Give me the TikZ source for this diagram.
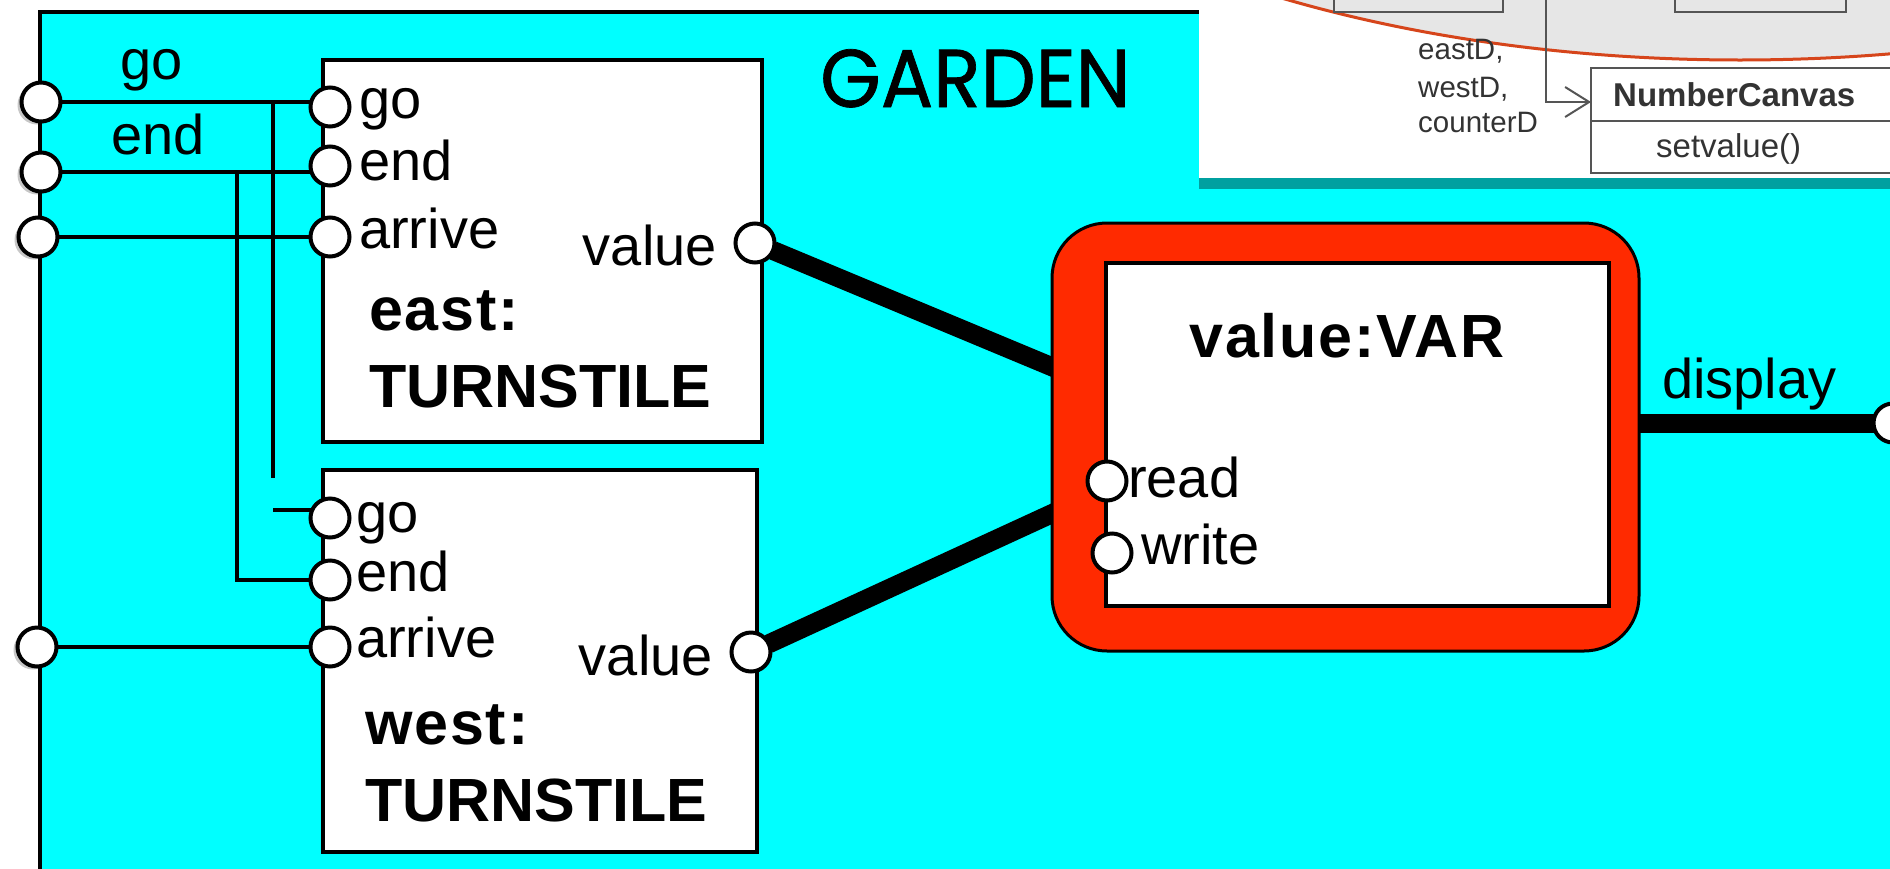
\documentclass[tikz,border=0pt]{standalone}
\usepackage{fontspec}
\setmainfont{Liberation Sans}
\newfontfamily\gardenfont[FakeBold=0.9]{Poppins}
\usetikzlibrary{calc,arrows.meta,shadows}

\definecolor{gardencyan}{HTML}{00FFFF}
\definecolor{varred}{HTML}{FF2A00}
\definecolor{umlgray}{HTML}{E6E6E6}
\definecolor{umlline}{HTML}{555555}
\definecolor{umlarc}{HTML}{D6451B}
\definecolor{umltext}{HTML}{333333}
\definecolor{insetshadow}{HTML}{00A0A0}

\pgfdeclarelayer{bg}
\pgfdeclarelayer{wires}
\pgfdeclarelayer{top}
\pgfsetlayers{bg,wires,main,top}

\tikzset{
  port/.style={circle, draw=black, fill=white, line width=4pt,
    minimum size=39pt, inner sep=0pt, outer sep=0pt},
  outerport/.style={port, drop shadow={shadow xshift=-4pt, shadow yshift=-3pt,
    fill=black, opacity=0.22}},
  procbox/.style={draw=black, fill=white, line width=4pt, anchor=north west,
    inner sep=0pt, outer sep=0pt},
  wire/.style={line width=3.5pt},
  bus/.style={line width=19pt},
  lbl/.style={anchor=base west, inner sep=0pt, font=\fontsize{56}{60}\selectfont},
  lblr/.style={lbl, anchor=base east},
  proctitle/.style={anchor=base west, inner sep=0pt,
    font=\fontsize{61}{66}\selectfont\bfseries},
  spaced/.style={font=\fontsize{61}{66}\selectfont\bfseries\addfontfeatures{LetterSpace=3}},
  umltxt/.style={anchor=base west, inner sep=0pt, text=umltext,
    font=\fontsize{29.5}{32}\selectfont},
}

\begin{document}
\begin{tikzpicture}[x=1pt,y=-1pt]
\useasboundingbox (0,0) rectangle (1890,868);

% ---------- GARDEN composite ----------
\begin{pgfonlayer}{bg}
  \fill[white] (0,0) rectangle (1890,868);
  \draw[line width=4pt, fill=gardencyan] (40,12) rectangle (1980,960);
\end{pgfonlayer}

\node[anchor=base west, inner sep=0pt, xscale=0.95,
      font=\gardenfont\fontsize{82}{88}\selectfont] (gardenlbl) at (820,107) {GARDEN};

% ---------- turnstile processes ----------
\node[procbox, minimum width=439pt, minimum height=382pt] (east) at (323,60) {};
\node[procbox, minimum width=434pt, minimum height=382pt] (west) at (323,470) {};

\node[proctitle, spaced] (easttitle) at (369,330) {east:};
\node[proctitle] (eastkind)  at (369,407) {TURNSTILE};
\node[proctitle, spaced] (westtitle) at (365,744) {west:};
\node[proctitle] (westkind)  at (365,821) {TURNSTILE};

% ---------- shared variable ----------
\node[draw=black, line width=3pt, fill=varred, rounded corners=55pt,
      minimum width=587pt, minimum height=428pt, anchor=north west,
      inner sep=0pt, outer sep=0pt] (var) at (1052,223) {};
\node[procbox, line width=3.5pt, minimum width=503pt, minimum height=343pt]
      (varbody) at (1106,263) {};
\node[anchor=base, inner sep=0pt, spaced] (vartitle) at (1347,357) {value:VAR};

% ---------- ports ----------
\node[outerport] (lgo)   at (41,102) {};
\node[outerport] (lend)  at (41,172) {};
\node[outerport] (larr)  at (38,237) {};
\node[outerport] (lwarr) at (37,647) {};

\node[port] (ego)  at (330,107) {};
\node[port] (eend) at (330,166) {};
\node[port] (earr) at (330,237) {};
\node[port] (eval) at (755,243) {};

\node[port] (wgo)  at (330,518) {};
\node[port] (wend) at (330,580) {};
\node[port] (warr) at (330,647) {};
\node[port] (wval) at (751,652) {};

\node[port] (vread)  at (1107,481) {};
\node[port] (vwrite) at (1112,553) {};

\node[port] (disp) at (1893,423) {};

% ---------- port labels ----------
\node[lbl] (lgol)  at (120,79)  {go};
\node[lbl] (lendl) at (111,154) {end};

\node[lbl] (egol)  at (359,118) {go};
\node[lbl] (eendl) at (359,180) {end};
\node[lbl] (earrl) at (359,248) {arrive};
\node[lblr] (evall) at (717,265) {value};

\node[lbl] (wgol)  at (356,532) {go};
\node[lbl] (wendl) at (356,591) {end};
\node[lbl] (warrl) at (356,657) {arrive};
\node[lblr] (wvall) at (713,675) {value};

\node[lbl] (vreadl)  at (1128,497) {read};
\node[lbl] (vwritel) at (1141,564) {write};
\node[lbl] (displ)   at (1662,398) {display};

% ---------- connections ----------
\coordinate (tapgo)    at (273,102);
\coordinate (tapgoend) at (273,478);
\coordinate (stubgo)   at (273,510);
\coordinate (tapend)   at (237,174);
\coordinate (varin1)   at (1062,371);
\coordinate (varin2)   at (1062,509);

\begin{pgfonlayer}{wires}
  \draw[wire] (lgo) -- (lgo -| ego);
  \draw[wire] (lend) -- (lend -| eend);
  \draw[wire] (larr) -- (larr -| earr);
  \draw[wire] (lwarr) -- (lwarr -| warr);
  \draw[wire] (tapgo) -- (tapgoend);
  \draw[wire] (stubgo) -- (stubgo -| wgo);
  \draw[wire] (tapend) |- (wend);
  \draw[bus] (eval) -- (varin1);
  \draw[bus] (wval) -- (varin2);
  \draw[bus] (var.east |- disp) -- (disp);
\end{pgfonlayer}

% ---------- class diagram excerpt ----------
\begin{pgfonlayer}{top}
  \fill[insetshadow] (1199,0) rectangle (1890,189);
  \fill[white] (1199,0) rectangle (1890,178);
  \begin{scope}
    \clip (1199,0) rectangle (1890,178);
    \draw[umlarc, fill=umlgray, line width=3pt] (1740,-385)
      ellipse [x radius=900, y radius=445];
    \draw[umlline, fill=umlgray, line width=2pt] (1334,-30) rectangle (1503,12);
    \draw[umlline, fill=umlgray, line width=2pt] (1675,-30) rectangle (1846,12);
    \node[draw=umlline, line width=2pt, fill=white, anchor=north west,
          minimum width=400pt, minimum height=105pt, inner sep=0pt, outer sep=0pt]
          (numcanvas) at (1591,68) {};
    \draw[umlline, line width=2pt] (1591,121) -- (1995,121);
    \coordinate (umltap) at (1546,-5);
    \draw[umlline, line width=2pt,
          -{Straight Barb[length=24pt, width=30pt, line width=2pt]}]
          (umltap) |- ([yshift=18.5pt]numcanvas.west);
    \node[anchor=base west, inner sep=0pt, text=umltext,
          font=\fontsize{33}{36}\selectfont\bfseries] (ncname) at (1613,106) {NumberCanvas};
    \node[anchor=base west, inner sep=0pt, text=umltext,
          font=\fontsize{33}{36}\selectfont] (ncop) at (1656,157) {setvalue()};
    \node[umltxt] (ud1) at (1418,59)  {eastD,};
    \node[umltxt] (ud2) at (1418,97)  {westD,};
    \node[umltxt] (ud3) at (1418,132) {counterD};
  \end{scope}
\end{pgfonlayer}
\end{tikzpicture}
\end{document}
